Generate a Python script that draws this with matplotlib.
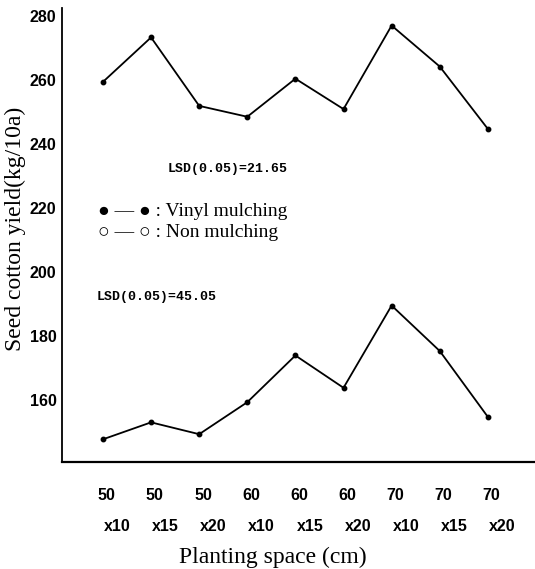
import numpy as np
import matplotlib
matplotlib.use('Agg')
import matplotlib.pyplot as plt
import matplotlib.transforms as mtransforms

# Дані з рисунка
row1 = ['50', '50', '50', '60', '60', '60', '70', '70', '70']
row2 = ['x10', 'x15', 'x20', 'x10', 'x15', 'x20', 'x10', 'x15', 'x20']
vinyl = [259.4, 273.3, 251.9, 248.5, 260.4, 250.9, 277.0, 264.2, 244.7]
non_mulch = [147.7, 153.0, 149.3, 159.3, 173.9, 163.8, 189.5, 175.3, 154.7]
yticks = [160, 180, 200, 220, 240, 260, 280]

serif = ['Liberation Serif', 'DejaVu Serif']
narrow = ['Liberation Sans Narrow', 'Liberation Sans', 'DejaVu Sans']
mono = ['Liberation Mono', 'DejaVu Sans Mono']

fig = plt.figure(figsize=(5.35, 5.69), dpi=100)
ax = fig.add_axes([0.116, 0.188, 0.884, 0.798])

x = np.arange(len(row1))
ax.plot(x, vinyl, color='black', lw=1.3, marker='o', ms=3.2)
ax.plot(x, non_mulch, color='black', lw=1.3, marker='o', ms=3.2)

ax.set_xlim(-0.85, 8.98)
ax.set_ylim(140.6, 282.5)
ax.set_yticks(yticks)
ax.set_yticklabels([str(v) for v in yticks], family=narrow, fontweight='bold', fontsize=11.5)
ax.set_xticks(x)
ax.set_xticklabels([])
ax.tick_params(length=0, pad=4)

for s in ['top', 'right']:
    ax.spines[s].set_visible(False)
ax.spines['left'].set_linewidth(1.3)
ax.spines['bottom'].set_linewidth(1.6)

# Підписи осі X у два рядки
trans = mtransforms.blended_transform_factory(ax.transData, ax.transAxes)
for i in x:
    ax.text(i + 0.08, -0.0727, row1[i], transform=trans, ha='center', va='center',
            family=narrow, fontweight='bold', fontsize=11.5)
    ax.text(i + 0.3, -0.143, row2[i], transform=trans, ha='center', va='center',
            family=narrow, fontweight='bold', fontsize=11.5)

ax.text(0.446, -0.209, 'Planting space (cm)', transform=ax.transAxes, ha='center', va='center',
        family=serif, fontsize=17)
fig.text(0.028, 0.597, 'Seed cotton yield(kg/10a)', rotation=90, ha='center', va='center',
         family=serif, fontsize=17)

# Примітки
ax.text(1.35, 232.2, 'LSD(0.05)=21.65', family=mono, fontweight='bold', fontsize=9.5,
        va='center')
ax.text(-0.13, 192.2, 'LSD(0.05)=45.05', family=mono, fontweight='bold', fontsize=9.5,
        va='center')
ax.text(-0.1, 219.0, '\u25cf \u2014 \u25cf : Vinyl mulching', family=serif, fontsize=14,
        va='center')
ax.text(-0.1, 212.4, '\u25cb \u2014 \u25cb : Non mulching', family=serif, fontsize=14,
        va='center')

fig.savefig('out.png', dpi=100)
